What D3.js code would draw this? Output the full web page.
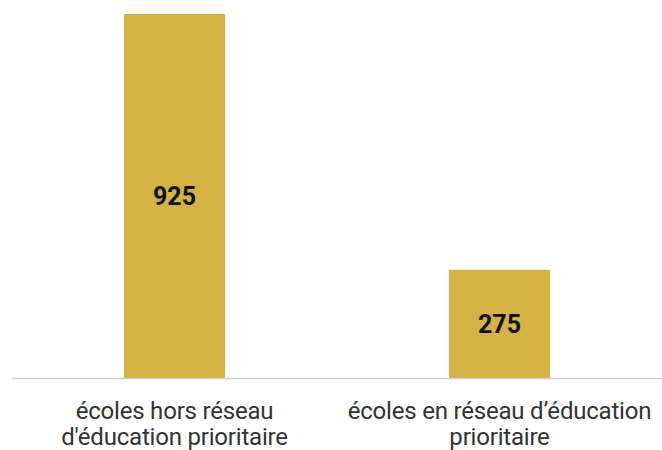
<!DOCTYPE html>
<html><head><meta charset="utf-8">
<script src="https://cdn.jsdelivr.net/npm/d3@7"></script>
<style>
html,body{margin:0;padding:0;background:#fff;}
svg{display:block;}
</style></head>
<body>
<script>
const categories = [["écoles hors réseau", "d'éducation prioritaire"], ["écoles en réseau d’éducation", "prioritaire"]];
const values = [925, 275];

const W = 662, H = 450;
const svg = d3.select("body").append("svg").attr("width", W).attr("height", H);

const x = d3.scaleBand().domain(d3.range(values.length)).range([12, 662]).paddingInner(0.689).paddingOuter(0.3445);
const y = d3.scaleLinear().domain([0, 925]).range([378, 14]);

svg.selectAll("rect.bar").data(values).enter().append("rect")
  .attr("class", "bar")
  .attr("x", (d, i) => x(i))
  .attr("width", x.bandwidth())
  .attr("y", d => y(d))
  .attr("height", d => y(0) - y(d))
  .attr("fill", "#D5B244");

svg.selectAll("text.val").data(values).enter().append("text")
  .attr("class", "val")
  .attr("x", (d, i) => x(i) + x.bandwidth() / 2)
  .attr("y", d => (y(d) + y(0)) / 2)
  .attr("dy", "0.35em")
  .attr("text-anchor", "middle")
  .attr("font-family", "Roboto")
  .attr("font-weight", "bold")
  .attr("font-size", 25)
  .attr("fill", "#111")
  .text(d => d);

const axis = d3.axisBottom(x).tickSize(0).tickFormat("");
const g = svg.append("g").attr("transform", `translate(0,${y(0)})`).call(axis);
g.select(".domain").attr("stroke", "#cfcfcf").attr("stroke-width", 1.5);

categories.forEach((lines, i) => {
  const t = svg.append("text")
    .attr("text-anchor", "middle")
    .attr("font-family", "Roboto")
    .attr("font-size", 24)
    .attr("letter-spacing", "-0.2px")
    .attr("fill", "#333");
  lines.forEach((l, j) => {
    t.append("tspan").attr("x", x(i) + x.bandwidth() / 2).attr("y", 419 + j * 26).text(l);
  });
});
</script>
</body></html>
